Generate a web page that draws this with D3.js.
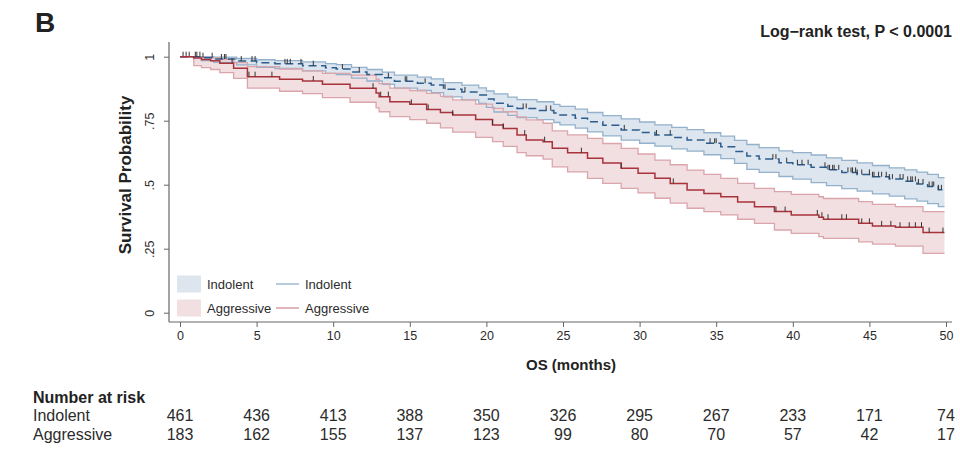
<!DOCTYPE html>
<html>
<head>
<meta charset="utf-8">
<script src="https://cdn.jsdelivr.net/npm/d3@7"></script>
<style>
  html, body { margin: 0; padding: 0; background: #fff; }
  svg { display: block; font-family: "Liberation Sans", Arial, Helvetica, sans-serif; }
</style>
</head>
<body>
<svg id="chart" width="960" height="452"></svg>
<script>
// ---------------- DATA ----------------
const xTicks = [0, 5, 10, 15, 20, 25, 30, 35, 40, 45, 50];
const yTicks = [0, 0.25, 0.5, 0.75, 1];
const yTickLabels = ["0", ".25", ".5", ".75", "1"];
const groups = ["Indolent", "Aggressive"];

const indolentTime  = [0, 1.4, 2.2, 3.7, 5.0, 6.2, 8.0, 9.5, 10.2, 11.2, 12.2, 13.2, 14.0, 15.5, 16.4, 17.2, 18.4, 19.5, 20.0, 20.5, 21.4, 22.0, 23.3, 24.4, 24.8, 25.8, 26.6, 27.6, 28.8, 30.0, 31.0, 32.1, 33.1, 34.2, 35.3, 36.2, 37.0, 37.8, 39.1, 40.0, 41.2, 42.2, 43.2, 44.2, 45.2, 46.3, 47.3, 48.1, 48.8, 49.5, 49.9];
const indolentSurv  = [1, 0.996, 0.991, 0.983, 0.976, 0.972, 0.965, 0.957, 0.952, 0.940, 0.930, 0.918, 0.904, 0.896, 0.889, 0.873, 0.862, 0.850, 0.835, 0.818, 0.806, 0.798, 0.790, 0.780, 0.772, 0.760, 0.746, 0.732, 0.714, 0.704, 0.694, 0.684, 0.675, 0.662, 0.648, 0.630, 0.612, 0.600, 0.586, 0.578, 0.568, 0.558, 0.548, 0.540, 0.531, 0.522, 0.513, 0.503, 0.493, 0.480, 0.480];
const indolentLower = [1, 0.985, 0.978, 0.968, 0.958, 0.954, 0.945, 0.935, 0.930, 0.916, 0.905, 0.892, 0.877, 0.868, 0.860, 0.843, 0.831, 0.818, 0.802, 0.784, 0.771, 0.762, 0.754, 0.743, 0.734, 0.721, 0.706, 0.691, 0.674, 0.662, 0.651, 0.640, 0.631, 0.617, 0.602, 0.583, 0.560, 0.548, 0.532, 0.522, 0.508, 0.496, 0.485, 0.475, 0.464, 0.455, 0.445, 0.436, 0.426, 0.414, 0.414];
const indolentUpper = [1, 1.0, 0.998, 0.993, 0.988, 0.985, 0.980, 0.973, 0.969, 0.958, 0.950, 0.940, 0.928, 0.920, 0.913, 0.899, 0.889, 0.878, 0.866, 0.855, 0.842, 0.832, 0.824, 0.814, 0.806, 0.795, 0.782, 0.770, 0.757, 0.745, 0.734, 0.724, 0.715, 0.703, 0.690, 0.673, 0.657, 0.645, 0.632, 0.625, 0.616, 0.605, 0.595, 0.585, 0.575, 0.566, 0.558, 0.549, 0.540, 0.528, 0.528];
const indolentCensor = [0.2, 0.4, 0.6, 1.0, 1.1, 1.3, 1.5, 2.1, 2.7, 2.9, 3.0, 4.0, 4.7, 4.9, 6.85, 7.0, 7.2, 7.9, 8.7, 10.6, 11.7, 13.6, 14.7, 14.8, 16.0, 17.3, 18.6, 22.4, 22.6, 23.9, 24.2, 29.0, 31.1, 32.0, 34.6, 34.9, 35.0, 38.7, 38.9, 39.6, 40.3, 40.6, 41.0, 42.1, 42.3, 42.4, 42.6, 42.7, 43.0, 43.6, 43.8, 43.9, 44.1, 44.2, 44.5, 45.0, 45.2, 45.3, 45.6, 45.8, 46.1, 46.3, 46.5, 47.0, 47.2, 47.5, 47.7, 47.8, 48.0, 48.2, 48.5, 48.9, 49.1, 49.2, 49.5, 49.7];

const aggressiveTime  = [0, 0.9, 1.4, 2.0, 2.6, 3.5, 4.4, 6.5, 8.0, 9.3, 11.1, 12.8, 13.0, 13.7, 15.0, 16.1, 17.0, 17.8, 19.3, 20.4, 21.1, 22.0, 22.6, 23.7, 24.3, 25.3, 26.6, 27.6, 28.8, 29.9, 31.0, 32.0, 33.1, 34.2, 35.3, 36.4, 37.5, 38.8, 39.9, 41.7, 42.0, 44.3, 45.2, 46.7, 48.5, 49.9];
const aggressiveSurv  = [1, 0.995, 0.989, 0.984, 0.974, 0.955, 0.922, 0.912, 0.905, 0.892, 0.877, 0.858, 0.844, 0.824, 0.814, 0.794, 0.782, 0.772, 0.755, 0.733, 0.720, 0.694, 0.675, 0.668, 0.642, 0.625, 0.603, 0.585, 0.564, 0.545, 0.525, 0.505, 0.479, 0.466, 0.453, 0.432, 0.414, 0.395, 0.382, 0.373, 0.365, 0.349, 0.339, 0.334, 0.313, 0.313];
const aggressiveLower = [1, 0.965, 0.957, 0.950, 0.938, 0.915, 0.877, 0.865, 0.856, 0.840, 0.822, 0.800, 0.785, 0.766, 0.754, 0.740, 0.722, 0.705, 0.685, 0.668, 0.650, 0.625, 0.613, 0.600, 0.570, 0.550, 0.525, 0.505, 0.486, 0.468, 0.447, 0.428, 0.408, 0.395, 0.382, 0.365, 0.349, 0.323, 0.310, 0.297, 0.290, 0.277, 0.268, 0.260, 0.232, 0.232];
const aggressiveUpper = [1, 0.999, 0.997, 0.995, 0.989, 0.977, 0.961, 0.952, 0.945, 0.935, 0.928, 0.912, 0.895, 0.877, 0.868, 0.857, 0.845, 0.831, 0.815, 0.798, 0.785, 0.765, 0.753, 0.740, 0.710, 0.695, 0.681, 0.661, 0.642, 0.620, 0.596, 0.578, 0.557, 0.540, 0.525, 0.505, 0.486, 0.473, 0.462, 0.453, 0.446, 0.434, 0.423, 0.414, 0.395, 0.395];
const aggressiveCensor = [3.4, 4.5, 4.9, 6.0, 8.7, 12.6, 13.1, 13.6, 15.1, 16.2, 17.8, 20.4, 21.1, 22.5, 23.8, 26.2, 28.8, 32.2, 38.9, 39.5, 41.6, 41.9, 42.3, 43.2, 43.5, 44.5, 45.0, 45.8, 46.4, 47.0, 47.6, 48.0, 48.4, 48.9, 49.8];

const riskIndolent   = [461, 436, 413, 388, 350, 326, 295, 267, 233, 171, 74];
const riskAggressive = [183, 162, 155, 137, 123, 99, 80, 70, 57, 42, 17];

// ---------------- DRAW ----------------
const svg = d3.select("#chart");
const x = d3.scaleLinear().domain([0, 50]).range([180, 946]);
const y = d3.scaleLinear().domain([0, 1]).range([312.7, 56.7]);

const axisColor = "#666";
const textColor = "#2b2b2b";

function series(time, s, lo, hi) {
  return time.map((t, i) => ({ t: t, s: s[i], lo: lo[i], hi: hi[i] }));
}
const indo = series(indolentTime, indolentSurv, indolentLower, indolentUpper);
const aggr = series(aggressiveTime, aggressiveSurv, aggressiveLower, aggressiveUpper);

const styles = {
  Indolent:   { fill: "#dde5ee", edge: "#93b1cc", line: "#2d5d8c", dash: "8,4.5", legendLine: "#8eaed0" },
  Aggressive: { fill: "#f1dfe2", edge: "#dba5ac", line: "#a8333b", dash: null, legendLine: "#cf8e96" }
};

const area = d3.area().curve(d3.curveStepAfter).x(d => x(d.t)).y0(d => y(d.lo)).y1(d => y(d.hi));
const lineLo = d3.line().curve(d3.curveStepAfter).x(d => x(d.t)).y(d => y(d.lo));
const lineHi = d3.line().curve(d3.curveStepAfter).x(d => x(d.t)).y(d => y(d.hi));
const lineS = d3.line().curve(d3.curveStepAfter).x(d => x(d.t)).y(d => y(d.s));

const plot = svg.append("g");
[["Indolent", indo], ["Aggressive", aggr]].forEach(([name, data]) => {
  const st = styles[name];
  plot.append("path").attr("d", area(data)).attr("fill", st.fill).attr("stroke", "none");
});
[["Indolent", indo], ["Aggressive", aggr]].forEach(([name, data]) => {
  const st = styles[name];
  plot.append("path").attr("d", lineLo(data)).attr("fill", "none").attr("stroke", st.edge).attr("stroke-width", 1.3);
  plot.append("path").attr("d", lineHi(data)).attr("fill", "none").attr("stroke", st.edge).attr("stroke-width", 1.3);
});

function survAt(data, t) {
  const i = d3.bisectRight(data.map(d => d.t), t) - 1;
  return data[Math.max(0, i)].s;
}
[["Indolent", indo, indolentCensor], ["Aggressive", aggr, aggressiveCensor]].forEach(([name, data, cens]) => {
  const st = styles[name];
  const p = plot.append("path").attr("d", lineS(data)).attr("fill", "none")
    .attr("stroke", st.line).attr("stroke-width", 1.5);
  if (st.dash) p.attr("stroke-dasharray", st.dash);
  plot.append("g").selectAll("line").data(cens).join("line")
    .attr("x1", d => x(d)).attr("x2", d => x(d))
    .attr("y1", d => y(survAt(data, d))).attr("y2", d => y(survAt(data, d)) - 5)
    .attr("stroke", "#333").attr("stroke-width", 1);
});

// axes
const xAxisY = 322;
const yAxisX = 169;
const gx = svg.append("g").attr("transform", `translate(0,${xAxisY})`)
  .call(d3.axisBottom(x).tickValues(xTicks).tickSize(5).tickPadding(4).tickSizeOuter(0));
gx.select(".domain").attr("d", `M${yAxisX},0H952`);
const gy = svg.append("g").attr("transform", `translate(${yAxisX},0)`)
  .call(d3.axisLeft(y).tickValues(yTicks).tickSize(5).tickSizeOuter(0).tickFormat((d, i) => yTickLabels[i]));
gy.select(".domain").attr("d", `M0,42V${xAxisY}`);
[gx, gy].forEach(g => {
  g.select(".domain").attr("stroke", axisColor).attr("stroke-width", 1.2);
  g.selectAll(".tick line").attr("stroke", axisColor).attr("stroke-width", 1);
  g.selectAll(".tick text").attr("fill", textColor).attr("font-size", 12.5)
    .attr("font-family", "Liberation Sans, Arial, sans-serif");
});
gy.selectAll(".tick text").attr("x", null).attr("dy", null)
  .attr("text-anchor", "middle").attr("transform", "translate(-15,0) rotate(-90)").attr("y", 0);

// axis titles
svg.append("text").attr("transform", "translate(131,175) rotate(-90)")
  .attr("text-anchor", "middle").attr("font-weight", "bold").attr("font-size", 17)
  .attr("fill", "#222").text("Survival Probability");
svg.append("text").attr("x", 571).attr("y", 370)
  .attr("text-anchor", "middle").attr("font-weight", "bold").attr("font-size", 15)
  .attr("fill", "#222").text("OS (months)");

// panel letter and test label
svg.append("text").attr("x", 35).attr("y", 32).attr("font-weight", "bold").attr("font-size", 28)
  .attr("fill", "#222").text("B");
svg.append("text").attr("x", 952).attr("y", 37).attr("text-anchor", "end")
  .attr("font-weight", "bold").attr("font-size", 16).attr("fill", "#222")
  .text("Log\u2212rank test, P < 0.0001");

// legend
const leg = svg.append("g");
groups.forEach((g, i) => {
  const st = styles[g];
  const cy = 284 + i * 24;
  leg.append("rect").attr("x", 177).attr("y", cy - 8.5).attr("width", 24).attr("height", 17).attr("fill", st.fill);
  leg.append("text").attr("x", 207).attr("y", cy + 4.5).attr("font-size", 13).attr("fill", textColor).text(g);
  leg.append("line").attr("x1", 276).attr("x2", 299).attr("y1", cy).attr("y2", cy)
    .attr("stroke", st.legendLine).attr("stroke-width", 1.3);
  leg.append("text").attr("x", 305).attr("y", cy + 4.5).attr("font-size", 13).attr("fill", textColor).text(g);
});

// risk table
svg.append("text").attr("x", 33).attr("y", 403).attr("font-weight", "bold").attr("font-size", 16)
  .attr("fill", "#222").text("Number at risk");
[[riskIndolent, "Indolent", 421], [riskAggressive, "Aggressive", 440]].forEach(([vals, name, yy]) => {
  svg.append("text").attr("x", 33).attr("y", yy).attr("font-size", 16).attr("fill", textColor).text(name);
  svg.append("g").selectAll("text").data(vals).join("text")
    .attr("x", (d, i) => x(xTicks[i])).attr("y", yy).attr("text-anchor", "middle")
    .attr("font-size", 16).attr("fill", textColor).text(d => d);
});
</script>
</body>
</html>
